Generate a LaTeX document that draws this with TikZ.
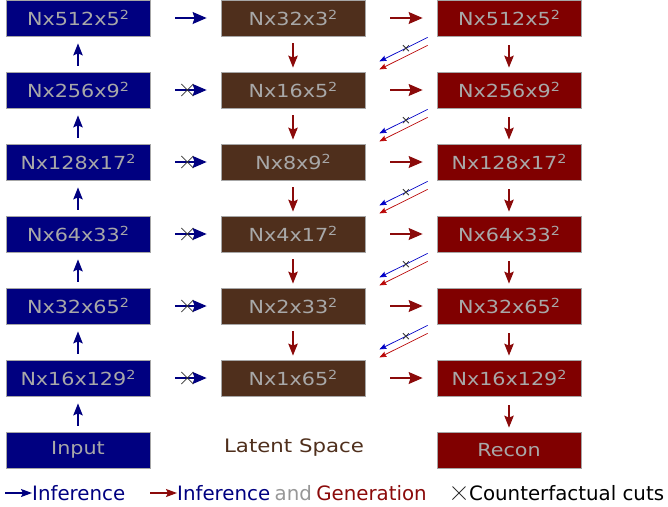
\documentclass[tikz,border=0pt]{standalone}
\usepackage{fontspec}
\setmainfont{DejaVu Sans}
\newfontfamily\boxfont[FakeStretch=1.15]{DejaVu Sans}
\usetikzlibrary{arrows.meta,calc}
\definecolor{infblue}{HTML}{000080}
\definecolor{latbrown}{HTML}{4F2F1C}
\definecolor{genred}{HTML}{800000}
\definecolor{txtgray}{HTML}{A8A8A8}
\definecolor{arrred}{HTML}{8B0A0A}
\newcommand{\sq}{\raisebox{0.55ex}{\fontsize{12.5}{12.5}\selectfont 2}}
\tikzset{
  blk/.style={draw=gray!70, line width=0.8pt, minimum width=144pt, minimum height=36pt, inner sep=0pt,
    text=txtgray, font=\boxfont\fontsize{18}{20}\selectfont},
  encbox/.style={blk, fill=infblue},
  latbox/.style={blk, fill=latbrown},
  decbox/.style={blk, fill=genred},
  bigtip/.style={-{Stealth[length=14pt,width=12pt,inset=2pt]}},
  vtip/.style={-{Stealth[length=12pt,width=9.5pt,inset=2pt]}},
  barrow/.style={bigtip, infblue, line width=1.2pt},
  rarrow/.style={bigtip, arrred, line width=1.2pt},
  bvarrow/.style={vtip, infblue, line width=1.2pt},
  rvarrow/.style={vtip, arrred, line width=1.2pt},
  dblue/.style={-{Stealth[length=7pt,width=5.5pt,inset=1pt]}, blue!55!infblue, line width=0.7pt},
  dred/.style={-{Stealth[length=7pt,width=5.5pt,inset=1pt]}, red!40!arrred, line width=0.7pt},
  cutmark/.style={black!80, line width=0.8pt},
  legtxt/.style={anchor=west, inner sep=0pt, font=\fontsize{19.8}{22}\selectfont},
}
\newcommand{\cutX}[2]{\draw[cutmark] ($(#1)+(-#2,-#2)$) -- ($(#1)+(#2,#2)$) ($(#1)+(-#2,#2)$) -- ($(#1)+(#2,-#2)$);}
\begin{document}
\begin{tikzpicture}[x=1pt,y=-1pt]
\useasboundingbox (0,0) rectangle (668,506);
% encoder column
\node[encbox] (e1) at (78,18) {Nx512x5\sq};
\node[encbox] (e2) at (78,90) {Nx256x9\sq};
\node[encbox] (e3) at (78,162) {Nx128x17\sq};
\node[encbox] (e4) at (78,234) {Nx64x33\sq};
\node[encbox] (e5) at (78,306) {Nx32x65\sq};
\node[encbox] (e6) at (78,378) {Nx16x129\sq};
\node[encbox] (e7) at (78,450) {Input};
% latent column
\node[latbox] (l1) at (293,18) {Nx32x3\sq};
\node[latbox] (l2) at (293,90) {Nx16x5\sq};
\node[latbox] (l3) at (293,162) {Nx8x9\sq};
\node[latbox] (l4) at (293,234) {Nx4x17\sq};
\node[latbox] (l5) at (293,306) {Nx2x33\sq};
\node[latbox] (l6) at (293,378) {Nx1x65\sq};
\node[text=latbrown, font=\boxfont\fontsize{18.5}{20}\selectfont] (lt) at (294,448) {Latent Space};
% decoder column
\node[decbox] (d1) at (509,18) {Nx512x5\sq};
\node[decbox] (d2) at (509,90) {Nx256x9\sq};
\node[decbox] (d3) at (509,162) {Nx128x17\sq};
\node[decbox] (d4) at (509,234) {Nx64x33\sq};
\node[decbox] (d5) at (509,306) {Nx32x65\sq};
\node[decbox] (d6) at (509,378) {Nx16x129\sq};
\node[decbox] (d7) at (509,450) {Recon};
% vertical arrows
\foreach \a/\b in {e7/e6,e6/e5,e5/e4,e4/e3,e3/e2,e2/e1}
  \draw[bvarrow] ($(\a.north)+(0,-6)$) -- ($(\b.south)+(0,7)$);
\foreach \a/\b in {l1/l2,l2/l3,l3/l4,l4/l5,l5/l6}
  \draw[rvarrow] ($(\a.south)+(0,7)$) -- ($(\b.north)+(0,-4)$);
\foreach \a/\b in {d1/d2,d2/d3,d3/d4,d4/d5,d5/d6,d6/d7}
  \draw[rvarrow] ($(\a.south)+(0,9)$) -- ($(\b.north)+(0,-4)$);
% horizontal arrows
\foreach \i in {1,...,6}{
  \draw[barrow] ($(e\i.east)+(25,0)$) -- ($(l\i.west)+(-14,0)$);
  \draw[rarrow] ($(l\i.east)+(25,0)$) -- ($(d\i.west)+(-14,0)$);
}
\foreach \i in {2,...,6}{
  \coordinate (c\i) at ($(e\i.east)+(37,0)$);
  \cutX{c\i}{6}
}
% diagonal arrows
\foreach \i in {1,...,5}{
  \coordinate (bs\i) at ($(d\i.south west)+(-9,1)$);
  \coordinate (be\i) at ($(l\i.south east)+(14,25)$);
  \coordinate (rs\i) at ($(d\i.south west)+(-9,9)$);
  \coordinate (re\i) at ($(l\i.south east)+(14,33)$);
  \draw[dblue] (bs\i) -- (be\i);
  \draw[dred] (rs\i) -- (re\i);
  \coordinate (x\i) at ($(bs\i)!0.45!(be\i)$);
  \cutX{x\i}{3}
}
% legend
\coordinate (la1) at (5,493);
\node[legtxt, text=infblue] (li1) at (32,493) {Inference};
\draw[infblue, line width=1.2pt, -{Stealth[length=11pt,width=8pt,inset=2pt]}] (la1) -- (li1.west);
\coordinate (la2) at (150,493);
\node[legtxt, text=infblue] (li2) at (177,493) {Inference};
\draw[arrred, line width=1.2pt, -{Stealth[length=11pt,width=8pt,inset=2pt]}] (la2) -- (li2.west);
\node[legtxt, text=txtgray!90!black] (land) at ($(li2.east)+(4,0)$) {and};
\node[legtxt, text=arrred] (lgen) at ($(land.east)+(4,0)$) {Generation};
\coordinate (lx) at (459,493);
\cutX{lx}{6.5}
\node[legtxt, text=black] (lcut) at (469,493) {Counterfactual cuts};
\end{tikzpicture}
\end{document}
